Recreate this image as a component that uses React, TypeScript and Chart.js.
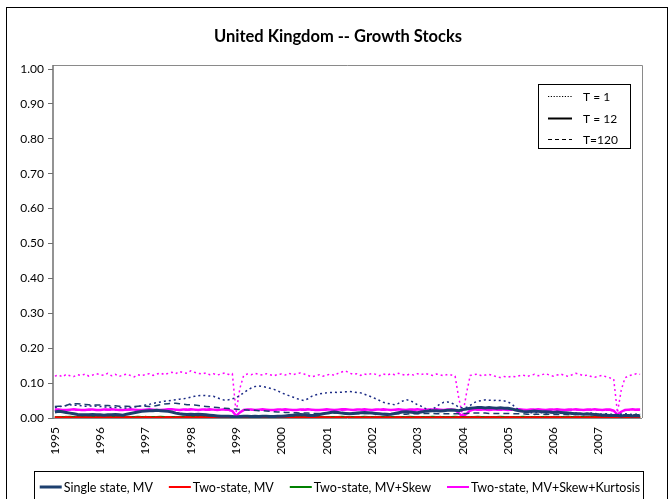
import React, { useEffect, useRef } from 'react';
import { Chart, registerables } from 'chart.js';

Chart.register(...registerables);

const years = ['1995', '1996', '1997', '1998', '1999', '2000', '2001', '2002', '2003', '2004', '2005', '2006', '2007'];
const monthNames = ['01', '02', '03', '04', '05', '06', '07', '08', '09', '10', '11', '12'];
const months: string[] = [];
years.forEach((y) => monthNames.forEach((m) => months.push(y + '-' + m)));

const yTicks = [0, 0.1, 0.2, 0.3, 0.4, 0.5, 0.6, 0.7, 0.8, 0.9, 1.0];

// Single state, MV
const singleT1 = [
  .030, .032, .034, .036, .038, .037, .036, .035, .034, .034, .035, .034,
  .033, .032, .031, .030, .030, .030, .029, .029, .030, .031, .033, .035,
  .037, .039, .042, .044, .046, .048, .049, .051, .052, .054, .055, .057,
  .060, .062, .064, .065, .064, .063, .062, .058, .054, .051, .052, .055,
  .058, .065, .072, .080, .086, .090, .092, .090, .088, .085, .082, .078,
  .072, .068, .064, .060, .056, .052, .050, .055, .062, .066, .069, .071,
  .072, .073, .074, .073, .074, .075, .076, .075, .073, .072, .068, .064,
  .060, .055, .050, .045, .042, .040, .038, .042, .048, .053, .050, .045,
  .038, .034, .028, .023, .025, .032, .040, .045, .046, .043, .038, .031,
  .029, .030, .036, .044, .048, .050, .052, .051, .050, .051, .050, .049,
  .046, .040, .030, .022, .018, .016, .015, .015, .016, .015, .014, .015,
  .016, .015, .014, .015, .016, .015, .014, .013, .012, .013, .014, .013,
  .012, .011, .012, .011, .010, .010, .011, .012, .011, .010, .011, .012,
];
const singleT12 = [
  .017, .019, .018, .016, .014, .012, .010, .009, .009, .009, .010, .009,
  .009, .008, .009, .009, .010, .009, .008, .011, .013, .015, .017, .019,
  .020, .021, .021, .022, .021, .020, .019, .017, .014, .012, .011, .010,
  .011, .010, .011, .010, .009, .008, .007, .006, .005, .005, .005, .004,
  .003, .004, .005, .005, .004, .005, .004, .005, .005, .004, .004, .005,
  .005, .006, .007, .008, .009, .010, .009, .008, .007, .008, .010, .012,
  .014, .016, .017, .016, .014, .013, .012, .013, .014, .015, .016, .015,
  .014, .013, .012, .011, .010, .011, .013, .015, .017, .018, .017, .016,
  .015, .017, .019, .020, .021, .021, .020, .021, .022, .023, .022, .021,
  .024, .026, .028, .029, .030, .030, .029, .030, .029, .028, .029, .028,
  .028, .026, .023, .021, .019, .018, .019, .020, .019, .018, .018, .017,
  .016, .017, .016, .015, .014, .013, .012, .012, .011, .012, .011, .010,
  .009, .008, .008, .007, .007, .007, .006, .007, .007, .006, .007, .006,
];
const singleT120 = [
  .033, .034, .034, .036, .040, .041, .041, .040, .039, .038, .037, .037,
  .037, .036, .036, .035, .035, .034, .034, .034, .033, .033, .034, .035,
  .034, .033, .034, .036, .038, .040, .041, .042, .042, .041, .040, .038,
  .038, .037, .036, .034, .033, .032, .031, .030, .029, .028, .027, .026,
  .025, .024, .024, .023, .022, .022, .021, .021, .020, .019, .018, .017,
  .017, .016, .016, .015, .015, .014, .014, .014, .013, .013, .013, .013,
  .013, .013, .014, .014, .013, .013, .013, .012, .012, .012, .013, .013,
  .012, .012, .012, .013, .013, .012, .012, .012, .011, .011, .012, .012,
  .012, .012, .013, .013, .013, .012, .012, .012, .012, .012, .012, .012,
  .013, .013, .014, .014, .014, .014, .014, .013, .013, .013, .013, .013,
  .013, .012, .012, .012, .012, .011, .011, .011, .011, .011, .011, .011,
  .010, .010, .010, .010, .010, .010, .010, .010, .010, .010, .010, .010,
  .010, .010, .009, .009, .009, .009, .009, .009, .009, .009, .009, .009,
];

// Two-state, MV
const twoMvT1 = [
  .002, .002, .003, .002, .002, .002, .003, .002, .002, .002, .002, .003,
  .002, .002, .002, .003, .002, .002, .002, .002, .003, .002, .002, .002,
  .003, .002, .002, .002, .002, .003, .002, .002, .002, .002, .003, .002,
  .002, .002, .003, .002, .002, .002, .002, .003, .002, .002, .002, .002,
  .002, .003, .002, .002, .002, .002, .003, .002, .002, .002, .002, .003,
  .002, .002, .002, .003, .002, .002, .002, .002, .003, .002, .002, .002,
  .003, .002, .002, .002, .002, .003, .002, .002, .002, .002, .003, .002,
  .002, .002, .003, .002, .002, .002, .002, .003, .002, .002, .002, .002,
  .002, .003, .002, .002, .002, .002, .003, .002, .002, .002, .002, .003,
  .002, .002, .002, .003, .002, .002, .002, .002, .003, .002, .002, .002,
  .003, .002, .002, .002, .002, .003, .002, .002, .002, .002, .003, .002,
  .002, .002, .003, .002, .002, .002, .002, .003, .002, .002, .002, .002,
  .002, .003, .002, .002, .002, .002, .003, .002, .002, .002, .002, .003,
];
const twoMvT12 = [
  .001, .001, .001, .002, .001, .001, .001, .001, .002, .001, .001, .001,
  .001, .002, .001, .001, .001, .001, .001, .002, .001, .001, .001, .001,
  .002, .001, .001, .001, .001, .001, .002, .001, .001, .001, .001, .002,
  .001, .001, .001, .002, .001, .001, .001, .001, .002, .001, .001, .001,
  .001, .002, .001, .001, .001, .001, .001, .002, .001, .001, .001, .001,
  .002, .001, .001, .001, .001, .001, .002, .001, .001, .001, .001, .002,
  .001, .001, .001, .002, .001, .001, .001, .001, .002, .001, .001, .001,
  .001, .002, .001, .001, .001, .001, .001, .002, .001, .001, .001, .001,
  .002, .001, .001, .001, .001, .001, .002, .001, .001, .001, .001, .002,
  .001, .001, .001, .002, .001, .001, .001, .001, .002, .001, .001, .001,
  .001, .002, .001, .001, .001, .001, .001, .002, .001, .001, .001, .001,
  .002, .001, .001, .001, .001, .001, .002, .001, .001, .001, .001, .002,
  .001, .001, .001, .002, .001, .001, .001, .001, .002, .001, .001, .001,
];
const twoMvT120 = [
  .002, .002, .002, .002, .002, .002, .002, .002, .002, .002, .002, .002,
  .002, .002, .002, .002, .002, .002, .002, .002, .002, .002, .002, .002,
  .002, .002, .002, .002, .002, .002, .002, .002, .002, .002, .002, .002,
  .002, .002, .002, .002, .002, .002, .002, .002, .002, .002, .002, .002,
  .002, .002, .002, .002, .002, .002, .002, .002, .002, .002, .002, .002,
  .002, .002, .002, .002, .002, .002, .002, .002, .002, .002, .002, .002,
  .002, .002, .002, .002, .002, .002, .002, .002, .002, .002, .002, .002,
  .002, .002, .002, .002, .002, .002, .002, .002, .002, .002, .002, .002,
  .002, .002, .002, .002, .002, .002, .002, .002, .002, .002, .002, .002,
  .002, .002, .002, .002, .002, .002, .002, .002, .002, .002, .002, .002,
  .002, .002, .002, .002, .002, .002, .002, .002, .002, .002, .002, .002,
  .002, .002, .002, .002, .002, .002, .002, .002, .002, .002, .002, .002,
  .002, .002, .002, .002, .002, .002, .002, .002, .002, .002, .002, .002,
];

// Two-state, MV+Skew
const twoSkewT1 = [
  .003, .003, .003, .004, .003, .003, .003, .003, .004, .003, .003, .003,
  .003, .004, .003, .003, .003, .003, .003, .004, .003, .003, .003, .003,
  .004, .003, .003, .003, .003, .003, .004, .003, .003, .003, .003, .004,
  .003, .003, .003, .004, .003, .003, .003, .003, .004, .003, .003, .003,
  .003, .004, .003, .003, .003, .003, .003, .004, .003, .003, .003, .003,
  .004, .003, .003, .003, .003, .003, .004, .003, .003, .003, .003, .004,
  .003, .003, .003, .004, .003, .003, .003, .003, .004, .003, .003, .003,
  .003, .004, .003, .003, .003, .003, .003, .004, .003, .003, .003, .003,
  .004, .003, .003, .003, .003, .003, .004, .003, .003, .003, .003, .004,
  .003, .003, .003, .004, .003, .003, .003, .003, .004, .003, .003, .003,
  .003, .004, .003, .003, .003, .003, .003, .004, .003, .003, .003, .003,
  .004, .003, .003, .003, .003, .003, .004, .003, .003, .003, .003, .004,
  .003, .003, .003, .004, .003, .003, .003, .003, .004, .003, .003, .003,
];
const twoSkewT12 = [
  .002, .002, .002, .002, .003, .002, .002, .002, .002, .002, .003, .002,
  .002, .002, .002, .002, .003, .002, .002, .002, .002, .002, .003, .002,
  .002, .002, .002, .002, .003, .002, .002, .002, .002, .002, .003, .002,
  .002, .002, .002, .002, .003, .002, .002, .002, .002, .002, .003, .002,
  .002, .002, .002, .002, .003, .002, .002, .002, .002, .002, .003, .002,
  .002, .002, .002, .002, .003, .002, .002, .002, .002, .002, .003, .002,
  .002, .002, .002, .002, .003, .002, .002, .002, .002, .002, .003, .002,
  .002, .002, .002, .002, .003, .002, .002, .002, .002, .002, .003, .002,
  .002, .002, .002, .002, .003, .002, .002, .002, .002, .002, .003, .002,
  .002, .002, .002, .002, .003, .002, .002, .002, .002, .002, .003, .002,
  .002, .002, .002, .002, .003, .002, .002, .002, .002, .002, .003, .002,
  .002, .002, .002, .002, .003, .002, .002, .002, .002, .002, .003, .002,
  .002, .002, .002, .002, .003, .002, .002, .002, .002, .002, .003, .002,
];
const twoSkewT120 = [
  .002, .002, .002, .002, .002, .002, .002, .002, .002, .002, .002, .002,
  .002, .002, .002, .002, .002, .002, .002, .002, .002, .002, .002, .002,
  .002, .002, .002, .002, .002, .002, .002, .002, .002, .002, .002, .002,
  .002, .002, .002, .002, .002, .002, .002, .002, .002, .002, .002, .002,
  .002, .002, .002, .002, .002, .002, .002, .002, .002, .002, .002, .002,
  .002, .002, .002, .002, .002, .002, .002, .002, .002, .002, .002, .002,
  .002, .002, .002, .002, .002, .002, .002, .002, .002, .002, .002, .002,
  .002, .002, .002, .002, .002, .002, .002, .002, .002, .002, .002, .002,
  .002, .002, .002, .002, .002, .002, .002, .002, .002, .002, .002, .002,
  .002, .002, .002, .002, .002, .002, .002, .002, .002, .002, .002, .002,
  .002, .002, .002, .002, .002, .002, .002, .002, .002, .002, .002, .002,
  .002, .002, .002, .002, .002, .002, .002, .002, .002, .002, .002, .002,
  .002, .002, .002, .002, .002, .002, .002, .002, .002, .002, .002, .002,
];

// Two-state, MV+Skew+Kurtosis
const twoKurtT1 = [
  .120, .123, .118, .125, .121, .119, .124, .122, .126, .120, .123, .127,
  .124, .122, .128, .121, .125, .119, .123, .126, .122, .118, .124, .121,
  .125, .127, .122, .126, .129, .124, .128, .131, .127, .133, .130, .128,
  .135, .131, .128, .126, .129, .124, .127, .123, .126, .129, .125, .127,
  .015, .085, .122, .126, .124, .128, .125, .123, .127, .124, .121, .125,
  .126, .123, .128, .124, .127, .129, .126, .122, .118, .121, .124, .120,
  .123, .126, .122, .128, .132, .135, .129, .125, .127, .122, .126, .124,
  .128, .125, .121, .126, .123, .127, .124, .128, .125, .122, .126, .123,
  .127, .124, .128, .125, .122, .126, .124, .121, .125, .123, .120, .055,
  .008, .070, .122, .124, .126, .121, .123, .125, .122, .118, .116, .119,
  .117, .120, .118, .121, .123, .119, .122, .125, .121, .124, .127, .123,
  .120, .123, .126, .122, .119, .124, .128, .125, .121, .123, .119, .117,
  .120, .122, .118, .115, .112, .015, .080, .115, .121, .124, .127, .125,
];
const twoKurtT12 = [
  .024, .024, .023, .023, .024, .025, .024, .023, .023, .024, .024, .023,
  .023, .024, .024, .025, .024, .023, .023, .024, .025, .024, .023, .023,
  .024, .025, .024, .023, .023, .024, .025, .025, .024, .023, .024, .024,
  .025, .024, .023, .024, .024, .025, .024, .023, .024, .025, .024, .020,
  .006, .016, .023, .024, .024, .023, .024, .025, .024, .023, .023, .024,
  .024, .025, .024, .023, .023, .024, .024, .025, .024, .023, .023, .024,
  .025, .024, .023, .024, .025, .025, .024, .023, .024, .024, .025, .024,
  .023, .024, .024, .025, .024, .023, .024, .025, .024, .023, .024, .024,
  .025, .024, .023, .024, .024, .025, .024, .023, .024, .024, .023, .014,
  .004, .012, .022, .024, .024, .025, .024, .023, .024, .024, .025, .024,
  .023, .024, .024, .025, .024, .023, .024, .024, .025, .024, .023, .024,
  .024, .025, .024, .023, .024, .024, .025, .024, .023, .024, .024, .025,
  .024, .023, .024, .024, .021, .010, .018, .023, .024, .025, .024, .024,
];
const twoKurtT120 = [
  .022, .022, .022, .023, .022, .022, .023, .022, .022, .022, .023, .022,
  .022, .023, .022, .022, .022, .023, .022, .022, .023, .022, .022, .022,
  .023, .022, .022, .022, .023, .022, .022, .023, .022, .022, .022, .023,
  .022, .022, .023, .022, .022, .022, .023, .022, .022, .023, .022, .019,
  .007, .015, .022, .022, .023, .022, .022, .022, .023, .022, .022, .023,
  .022, .022, .022, .023, .022, .022, .023, .022, .022, .022, .023, .022,
  .022, .023, .022, .022, .022, .023, .022, .022, .023, .022, .022, .022,
  .023, .022, .022, .022, .023, .022, .022, .023, .022, .022, .022, .023,
  .022, .022, .023, .022, .022, .022, .023, .022, .022, .023, .022, .013,
  .005, .011, .021, .022, .022, .023, .022, .022, .022, .023, .022, .022,
  .023, .022, .022, .022, .023, .022, .022, .023, .022, .022, .022, .023,
  .022, .022, .023, .022, .022, .022, .023, .022, .022, .023, .022, .022,
  .022, .023, .022, .022, .020, .011, .017, .022, .022, .023, .022, .022,
];

const modelNames = ['Single state, MV', 'Two-state, MV', 'Two-state, MV+Skew', 'Two-state, MV+Skew+Kurtosis'];
const modelColors = ['#1C3F6E', '#FF0000', '#008000', '#FF00FF'];
const horizonNames = ['T = 1', 'T = 12', 'T=120'];

const FONT = 'Lato, "Noto Sans", sans-serif';

const dotted = [2, 3];
const dashed = [6, 4];

function makeDatasets() {
  const ds: any[] = [];
  const push = (label: string, data: number[], color: string, width: number, dash: number[]) => {
    ds.push({
      label,
      data,
      borderColor: color,
      backgroundColor: color,
      borderWidth: width,
      borderDash: dash,
      pointRadius: 0,
      fill: false,
      tension: 0,
    });
  };
  // first dataset is drawn on top
  push(modelNames[0] + ' ' + horizonNames[1], singleT12, modelColors[0], 3, []);
  push(modelNames[0] + ' ' + horizonNames[2], singleT120, modelColors[0], 1.5, dashed);
  push(modelNames[0] + ' ' + horizonNames[0], singleT1, '#1A2A85', 1.5, dotted);
  push(modelNames[1] + ' ' + horizonNames[2], twoMvT120, modelColors[1], 1.5, dashed);
  push(modelNames[1] + ' ' + horizonNames[1], twoMvT12, modelColors[1], 2, []);
  push(modelNames[1] + ' ' + horizonNames[0], twoMvT1, modelColors[1], 1.5, dotted);
  push(modelNames[2] + ' ' + horizonNames[1], twoSkewT12, modelColors[2], 2.5, []);
  push(modelNames[2] + ' ' + horizonNames[2], twoSkewT120, modelColors[2], 1.5, dashed);
  push(modelNames[2] + ' ' + horizonNames[0], twoSkewT1, modelColors[2], 1.5, dotted);
  push(modelNames[3] + ' ' + horizonNames[1], twoKurtT12, modelColors[3], 2.5, []);
  push(modelNames[3] + ' ' + horizonNames[2], twoKurtT120, modelColors[3], 1.5, dashed);
  push(modelNames[3] + ' ' + horizonNames[0], twoKurtT1, modelColors[3], 1.5, dotted);
  return ds;
}

const decorPlugin = {
  id: 'decor',
  beforeDatasetsDraw(chart: any) {
    const { ctx, chartArea } = chart;
    const { left, right, top, bottom } = chartArea;
    ctx.save();
    ctx.strokeStyle = '#8a8a8a';
    ctx.lineWidth = 1;
    ctx.beginPath();
    ctx.moveTo(left, top - 4 + 0.5);
    ctx.lineTo(right + 0.5, top - 4 + 0.5);
    ctx.lineTo(right + 0.5, bottom);
    ctx.moveTo(left, bottom + 0.5);
    ctx.lineTo(right, bottom + 0.5);
    ctx.stroke();
    ctx.strokeStyle = '#6f6f6f';
    ctx.lineWidth = 1.5;
    ctx.beginPath();
    ctx.moveTo(left, top - 4);
    ctx.lineTo(left, bottom + 1);
    ctx.stroke();
    ctx.restore();
  },
  afterDraw(chart: any) {
    const { ctx } = chart;
    ctx.save();
    // outer frame
    ctx.strokeStyle = '#000';
    ctx.lineWidth = 1;
    ctx.strokeRect(6.5, 7.5, 661, 520);
    // title
    ctx.fillStyle = '#000';
    ctx.font = 'bold 16.5px ' + FONT;
    ctx.textAlign = 'center';
    ctx.textBaseline = 'middle';
    ctx.fillText('United Kingdom -- Growth Stocks', 338, 37);

    // horizon legend (top right)
    ctx.strokeRect(538.5, 84.5, 92, 64);
    ctx.font = '12px ' + FONT;
    ctx.textAlign = 'left';
    const hy = [96, 118, 139];
    const hDash = [[1.2, 1.6], [], [4, 3]];
    const hWidth = [1.2, 2, 1];
    horizonNames.forEach((name, i) => {
      ctx.beginPath();
      ctx.setLineDash(hDash[i]);
      ctx.lineWidth = hWidth[i];
      ctx.moveTo(548, hy[i] + 0.5);
      ctx.lineTo(572, hy[i] + 0.5);
      ctx.stroke();
      ctx.setLineDash([]);
      ctx.fillText(name, 583, hy[i] + 1);
    });

    // model legend (bottom)
    ctx.lineWidth = 1;
    ctx.strokeStyle = '#000';
    ctx.strokeRect(34.5, 471.5, 609, 60);
    ctx.font = '12.5px ' + FONT;
    const lineLen = 22;
    const gapAfterLine = 2;
    const gapItems = 16;
    const widths = modelNames.map((n) => ctx.measureText(n).width);
    const total = widths.reduce((a, b) => a + b, 0) + modelNames.length * (lineLen + gapAfterLine) + gapItems * (modelNames.length - 1);
    let x = 340 - total / 2;
    const ly = 487;
    modelNames.forEach((name, i) => {
      ctx.beginPath();
      ctx.strokeStyle = modelColors[i];
      ctx.lineWidth = i === 0 ? 3 : 2;
      ctx.moveTo(x, ly);
      ctx.lineTo(x + lineLen, ly);
      ctx.stroke();
      x += lineLen + gapAfterLine;
      ctx.fillStyle = '#000';
      ctx.fillText(name, x, ly + 1);
      x += widths[i] + gapItems;
    });
    ctx.restore();
  },
};

export default function App() {
  const ref = useRef<HTMLCanvasElement | null>(null);
  useEffect(() => {
    document.body.style.margin = '0';
    if (!ref.current) return;
    const chart = new Chart(ref.current, {
      type: 'line',
      data: { labels: months, datasets: makeDatasets() },
      options: {
        responsive: false,
        animation: false,
        devicePixelRatio: 1,
        layout: { padding: { top: 69, right: 28, left: 0, bottom: 0 } },
        plugins: {
          legend: { display: false },
          title: { display: false },
          tooltip: { enabled: false },
        },
        scales: {
          x: {
            type: 'category',
            offset: true,
            grid: { display: false, drawTicks: false },
            border: { display: false },
            ticks: {
              autoSkip: false,
              minRotation: 90,
              maxRotation: 90,
              padding: 9,
              color: '#000',
              font: { family: FONT, size: 12 },
              callback: (_v: any, i: number) => (i % 12 === 0 ? years[i / 12] : ''),
            },
            afterFit: (s: any) => {
              s.height = 81;
            },
          },
          y: {
            min: 0,
            max: 1,
            afterBuildTicks: (s: any) => {
              s.ticks = yTicks.map((v) => ({ value: v }));
            },
            ticks: {
              padding: 4,
              color: '#000',
              font: { family: FONT, size: 12 },
              callback: (v: any) => Number(v).toFixed(2),
            },
            grid: { drawOnChartArea: false, tickLength: 5, color: '#6f6f6f', lineWidth: 1 },
            border: { display: false },
            afterFit: (s: any) => {
              s.width = 53;
            },
          },
        },
      } as any,
      plugins: [decorPlugin],
    });
    return () => chart.destroy();
  }, []);
  return (
    <div style={{ width: 670, height: 499, position: 'relative', background: '#fff' }}>
      <canvas ref={ref} width={670} height={499} />
    </div>
  );
}
